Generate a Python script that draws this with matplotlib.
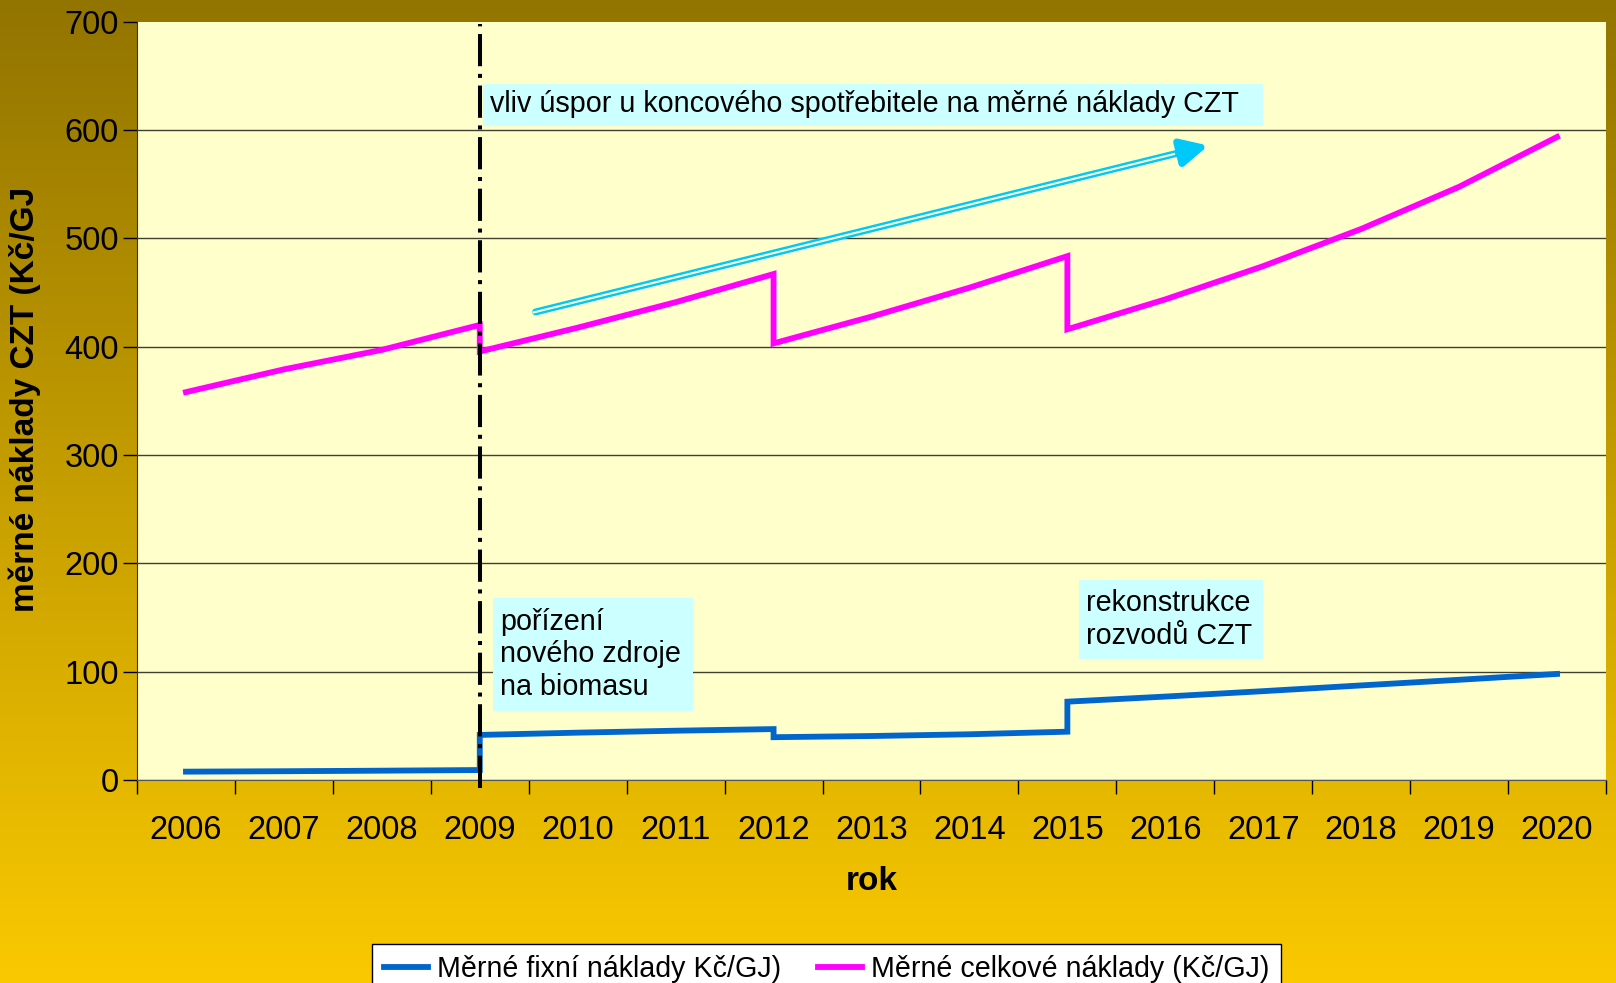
import numpy as np
import matplotlib
matplotlib.use("Agg")
import matplotlib.pyplot as plt
from matplotlib.patches import Rectangle

plt.rcParams['font.family'] = ['Liberation Sans', 'DejaVu Sans']

years = ['2006', '2007', '2008', '2009', '2010', '2011', '2012', '2013',
         '2014', '2015', '2016', '2017', '2018', '2019', '2020']
# roky se skokem (2009, 2012, 2015) jsou v datech dvakrat - pred a po zmene
pos = [0, 1, 2, 3, 3, 4, 5, 6, 6, 7, 8, 9, 9, 10, 11, 12, 13, 14]
fixni = [7.7, 8.1, 8.6, 9.2, 41.6, 43.7, 45.5, 47.0, 39.5, 40.6, 42.2, 44.6,
         72.3, 77.0, 82.0, 87.3, 92.5, 97.9]
celkove = [358, 379, 397, 420, 395.5, 417.5, 441, 467, 403, 427.7, 454.4, 483.5,
           416, 443.6, 474.3, 508.6, 547.5, 593.5]

lbl_fixni = 'Měrné fixní náklady Kč/GJ)'
lbl_celk = 'Měrné celkové náklady (Kč/GJ)'
milestone = '2009'

W, H = 1616, 983
fig = plt.figure(figsize=(W / 100, H / 100), dpi=100)

# pozadi - svisly prechod
bg = fig.add_axes([0, 0, 1, 1])
top = np.array([146, 116, 0]) / 255
bot = np.array([250, 201, 0]) / 255
t = np.linspace(0, 1, 256)[:, None, None]
grad = top * (1 - t) + bot * t
bg.imshow(grad, aspect='auto', extent=[0, 1, 0, 1])
bg.axis('off')

ax = fig.add_axes([137 / W, 1 - 780 / H, (1606 - 137) / W, (780 - 21.6) / H])
ax.set_facecolor('#FFFFCC')

x = np.arange(len(years))
ax.plot(pos, fixni, color='#0066CC', lw=4.2, solid_joinstyle='miter', label=lbl_fixni, zorder=3)
ax.plot(pos, celkove, color='#FF00FF', lw=4.2, solid_joinstyle='miter', label=lbl_celk, zorder=3)

# svisla carka-tecka u roku 2009
xm = years.index(milestone)
ax.plot([xm, xm], [-7.5, 698], color='black', lw=2.9, dashes=(8, 1.9, 1, 1.9),
        clip_on=False, zorder=5)

# sipka (dvojita cara)
x0, y0, x1, y1 = 3.57, 432, 10.44, 585.6
ax.annotate('', xy=(x1, y1), xytext=(x0, y0),
            arrowprops=dict(arrowstyle='-|>,head_length=0.8,head_width=0.4',
                            color='#00C8F8', lw=5, mutation_scale=20,
                            shrinkA=0, shrinkB=0), zorder=4)
xe = 10.1
ax.plot([x0 - 0.03, xe], [y0 - 0.03 * (y1 - y0) / (x1 - x0), y0 + (y1 - y0) * (xe - x0) / (x1 - x0)],
        color='#FFFFCC', lw=1.5, zorder=4, solid_capstyle='butt')

# popisky v boxech
boxc = '#CCFFFF'
fs_box = 20.7
ax.add_patch(Rectangle((3.033, 604), 10.998 - 3.033, 642 - 604, facecolor=boxc,
                       edgecolor='none', zorder=4))
ax.text(3.105, 624, 'vliv úspor u koncového spotřebitele na měrné náklady CZT',
        fontsize=fs_box, va='center', ha='left', zorder=6)
ax.add_patch(Rectangle((3.135, 63.7), 5.177 - 3.135, 168 - 63.7, facecolor=boxc,
                       edgecolor='none', zorder=4))
ax.text(3.207, 116, 'pořízení\nnového zdroje\nna biomasu', fontsize=fs_box,
        va='center', ha='left', linespacing=1.2, zorder=6)
ax.add_patch(Rectangle((9.119, 111.8), 10.998 - 9.119, 184.7 - 111.8, facecolor=boxc,
                       edgecolor='none', zorder=4))
ax.text(9.19, 148, 'rekonstrukce\nrozvodů CZT', fontsize=fs_box,
        va='center', ha='left', linespacing=1.2, zorder=6)

ax.set_xlim(-0.5, len(years) - 0.5)
ax.set_ylim(0, 700)
ax.set_yticks(range(0, 701, 100))
ax.set_xticks(x)
ax.set_xticklabels(years)
ax.set_xticks(np.arange(-0.5, len(years), 1), minor=True)
ax.tick_params(axis='x', which='major', length=0, pad=25, labelsize=23.5)
ax.tick_params(axis='x', which='minor', length=10, width=1, direction='out')
ax.tick_params(axis='y', length=10, width=1, direction='out', pad=3, labelsize=23.5)

ax.grid(axis='y', color='#404030', lw=1)
ax.yaxis.get_gridlines()[-1].set_visible(False)
ax.set_axisbelow(True)
for s in ['top', 'right']:
    ax.spines[s].set_visible(False)
ax.spines['left'].set_color('#333333')
ax.spines['bottom'].set_color('#555555')

fig.text(872 / W, 1 - 882 / H, 'rok', fontsize=24, fontweight='bold', ha='center', va='center')
fig.text(25 / W, 1 - 399 / H, 'měrné náklady CZT (Kč/GJ', fontsize=24, fontweight='bold',
         rotation=90, ha='center', va='center')

leg = fig.legend(loc='upper center', bbox_to_anchor=(0.5115, 1 - 944 / H), ncol=2,
                 fontsize=20.6, frameon=True, fancybox=False, edgecolor='black',
                 facecolor='white', framealpha=1, handlelength=1.55, columnspacing=1.3,
                 handletextpad=0.3, borderpad=0.4, borderaxespad=0)
leg.get_frame().set_linewidth(1)

fig.savefig('out.png', dpi=100)
